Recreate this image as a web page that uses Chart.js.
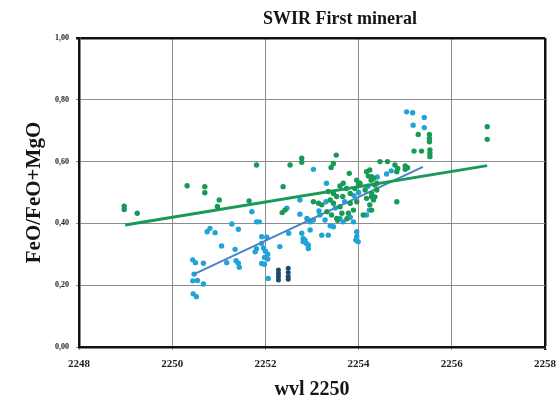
<!DOCTYPE html>
<html>
<head>
<meta charset="utf-8">
<script src="https://cdn.jsdelivr.net/npm/chart.js@4/dist/chart.umd.min.js"></script>
<style>
  body { margin: 0; background: #fff; }
  #wrap { width: 557px; height: 401px; }
</style>
</head>
<body>
<div id="wrap"><canvas id="swirChart" width="557" height="401"></canvas></div>
<script>
// values
const chartTitle = 'SWIR First mineral';
const xTitle = 'wvl 2250';
const yTitle = 'FeO/FeO+MgO';
const xTicks = [2248, 2250, 2252, 2254, 2256, 2258];
const yTickLabels = ['0,00', '0,20', '0,40', '0,60', '0,80', '1,00'];

const greenX = [2248.97, 2248.97, 2249.25, 2250.32, 2250.70, 2250.70, 2251.01, 2250.97, 2251.65, 2251.81,
  2252.53, 2252.78, 2252.78, 2253.52, 2253.46, 2253.41, 2253.80, 2254.17, 2254.21, 2254.46,
  2254.62, 2252.38, 2252.42, 2252.36, 2254.78, 2254.84, 2254.82, 2254.82, 2255.28, 2255.52,
  2255.52, 2255.52, 2255.19, 2255.35, 2255.53, 2255.53, 2255.53, 2256.76, 2256.76, 2255.00,
  2255.00, 2255.05, 2254.24, 2254.28, 2254.35, 2254.28, 2254.35,
  2253.35, 2253.46, 2253.60, 2253.67, 2253.74, 2253.53, 2253.66, 2253.82, 2253.92, 2254.03,
  2254.14, 2254.28, 2254.32, 2254.24, 2254.28, 2254.10, 2253.89, 2253.78, 2253.64, 2253.53,
  2253.42, 2253.32, 2253.14, 2253.03, 2253.21, 2253.82, 2253.96, 2253.46, 2253.60, 2253.39,
  2254.17, 2254.39, 2254.39, 2254.32, 2253.55, 2253.75, 2253.96, 2254.00, 2254.27];
const greenY = [0.456, 0.445, 0.433, 0.522, 0.519, 0.499, 0.476, 0.455, 0.473, 0.589,
  0.589, 0.611, 0.598, 0.621, 0.594, 0.581, 0.562, 0.567, 0.553, 0.600,
  0.600, 0.519, 0.443, 0.435, 0.589, 0.578, 0.567, 0.470, 0.688, 0.688,
  0.675, 0.664, 0.634, 0.634, 0.638, 0.627, 0.616, 0.713, 0.672, 0.586,
  0.575, 0.580, 0.573, 0.551, 0.524, 0.486, 0.486,
  0.503, 0.497, 0.521, 0.530, 0.513, 0.487, 0.487, 0.497, 0.513, 0.530,
  0.508, 0.497, 0.476, 0.460, 0.443, 0.427, 0.443, 0.433, 0.433, 0.416,
  0.427, 0.438, 0.465, 0.470, 0.460, 0.465, 0.470, 0.465, 0.454, 0.476,
  0.481, 0.508, 0.530, 0.546, 0.410, 0.415, 0.540, 0.527, 0.540];

const blueX = [2255.03, 2255.16, 2255.41, 2255.17, 2255.41,
  2251.71, 2251.81, 2251.28, 2251.42, 2250.81, 2250.75, 2250.92, 2251.06, 2251.35, 2250.44,
  2250.50, 2250.67, 2251.17, 2251.37, 2251.42, 2251.44, 2251.78, 2251.81, 2250.47, 2250.44,
  2250.54, 2250.67, 2250.45, 2250.52,
  2252.46, 2252.74, 2251.87, 2251.92, 2252.03, 2252.31,
  2251.92, 2251.96, 2252.00, 2252.05, 2251.98, 2252.05, 2251.92, 2251.98,
  2252.06, 2252.78, 2252.81, 2252.88,
  2253.03, 2253.31, 2252.74, 2252.92, 2253.03, 2253.17, 2253.39, 2253.60, 2253.67, 2253.82,
  2253.89, 2253.96, 2253.96, 2253.94, 2253.99, 2252.96, 2253.21, 2253.35, 2252.85, 2252.92,
  2252.92, 2252.50, 2254.23, 2254.17,
  2253.30, 2253.50, 2253.70, 2253.90, 2254.00, 2254.20, 2254.40, 2254.60, 2254.70, 2253.15,
  2252.89, 2252.96, 2253.28, 2253.46, 2252.81];
const blueY = [0.761, 0.758, 0.743, 0.718, 0.710,
  0.438, 0.405, 0.398, 0.381, 0.384, 0.373, 0.370, 0.327, 0.316, 0.282,
  0.273, 0.271, 0.273, 0.279, 0.271, 0.258, 0.308, 0.318, 0.236, 0.214,
  0.215, 0.204, 0.172, 0.163,
  0.449, 0.430, 0.405, 0.357, 0.355, 0.325,
  0.335, 0.320, 0.310, 0.300, 0.290, 0.285, 0.270, 0.268,
  0.222, 0.368, 0.341, 0.335,
  0.575, 0.530, 0.476, 0.411, 0.411, 0.427, 0.392, 0.416, 0.405, 0.420,
  0.405, 0.373, 0.357, 0.346, 0.341, 0.379, 0.362, 0.362, 0.346, 0.330,
  0.319, 0.368, 0.443, 0.427,
  0.470, 0.450, 0.470, 0.490, 0.500, 0.520, 0.550, 0.560, 0.570, 0.440,
  0.416, 0.405, 0.411, 0.389, 0.351];

const darkX = [2252.28, 2252.28, 2252.28, 2252.28, 2252.49, 2252.49, 2252.49, 2252.49];
const darkY = [0.249, 0.238, 0.228, 0.217, 0.255, 0.241, 0.228, 0.219];

// trend lines, end points
const greenFitX = [2248.99, 2256.76];
const greenFitY = [0.395, 0.587];
const blueFitX = [2250.47, 2255.38];
const blueFitY = [0.236, 0.583];

const toPoints = (xs, ys) => xs.map((x, i) => ({ x: x, y: ys[i] }));

const serif = '"Liberation Serif", "DejaVu Serif", serif';

const titlePlugin = {
  id: 'plotTitle',
  afterDraw(chart) {
    const c = chart.ctx;
    const area = chart.chartArea;
    c.save();
    c.font = 'bold 18px ' + serif;
    c.fillStyle = '#151515';
    c.textAlign = 'center';
    c.textBaseline = 'alphabetic';
    c.fillText(chartTitle, (area.left + area.right) / 2 + 28, 24);
    c.restore();
  }
};

const ctx = document.getElementById('swirChart').getContext('2d');
new Chart(ctx, {
  type: 'scatter',
  data: {
    datasets: [
      {
        label: 'green fit',
        data: toPoints(greenFitX, greenFitY),
        showLine: true,
        borderColor: '#169a55',
        borderWidth: 3,
        pointRadius: 0,
        order: 0
      },
      {
        label: 'green',
        data: toPoints(greenX, greenY),
        backgroundColor: '#169a55',
        borderWidth: 0,
        pointRadius: 2.7,
        order: 1
      },
      {
        label: 'blue fit',
        data: toPoints(blueFitX, blueFitY),
        showLine: true,
        borderColor: '#4a82c4',
        borderWidth: 2,
        pointRadius: 0,
        order: 2
      },
      {
        label: 'dark',
        data: toPoints(darkX, darkY),
        backgroundColor: '#1d4c6c',
        borderWidth: 0,
        pointRadius: 2.5,
        order: 3
      },
      {
        label: 'blue',
        data: toPoints(blueX, blueY),
        backgroundColor: '#22a3d8',
        borderWidth: 0,
        pointRadius: 2.7,
        order: 4
      }
    ]
  },
  options: {
    responsive: false,
    animation: false,
    layout: { padding: { top: 38, right: 12, left: 0, bottom: 0 } },
    plugins: {
      legend: { display: false },
      tooltip: { enabled: false }
    },
    scales: {
      x: {
        type: 'linear',
        position: 'bottom',
        min: xTicks[0],
        max: xTicks[xTicks.length - 1],
        afterBuildTicks: (s) => { s.ticks = xTicks.map(v => ({ value: v })); },
        afterFit: (s) => { s.height = 54; s.paddingLeft = 0; s.paddingRight = 0; },
        ticks: {
          padding: 8,
          color: '#222',
          font: { family: serif, size: 11, weight: 'bold' },
          callback: (v, i) => String(xTicks[i])
        },
        grid: {
          color: (c) => c.tick && c.tick.value === xTicks[xTicks.length - 1] ? '#111' : '#8c8c8c',
          lineWidth: (c) => c.tick && c.tick.value === xTicks[xTicks.length - 1] ? 2.5 : 1,
          tickLength: 3
        },
        border: { color: '#111', width: 2.5 },
        title: {
          display: true,
          text: xTitle,
          color: '#151515',
          font: { family: serif, size: 20, weight: 'bold', lineHeight: 1 },
          padding: { top: 0, bottom: 1 }
        }
      },
      y: {
        min: 0,
        max: 1,
        afterBuildTicks: (s) => { s.ticks = yTickLabels.map((t, i) => ({ value: i * 0.2 })); },
        afterFit: (s) => { s.width = 79; s.paddingTop = 0; s.paddingBottom = 0; },
        ticks: {
          padding: 7,
          color: '#222',
          font: { family: serif, size: 8, weight: 'bold' },
          callback: (v, i) => yTickLabels[i]
        },
        grid: {
          color: (c) => c.tick && Math.abs(c.tick.value - 1) < 1e-6 ? '#111' : '#8c8c8c',
          lineWidth: (c) => c.tick && Math.abs(c.tick.value - 1) < 1e-6 ? 2.5 : 1,
          tickLength: 3
        },
        border: { color: '#111', width: 2.5 },
        title: {
          display: true,
          text: yTitle,
          color: '#151515',
          font: { family: serif, size: 21, weight: 'bold', lineHeight: 1 },
          padding: { top: 24, bottom: 0 }
        }
      }
    }
  },
  plugins: [titlePlugin]
});
</script>
</body>
</html>
